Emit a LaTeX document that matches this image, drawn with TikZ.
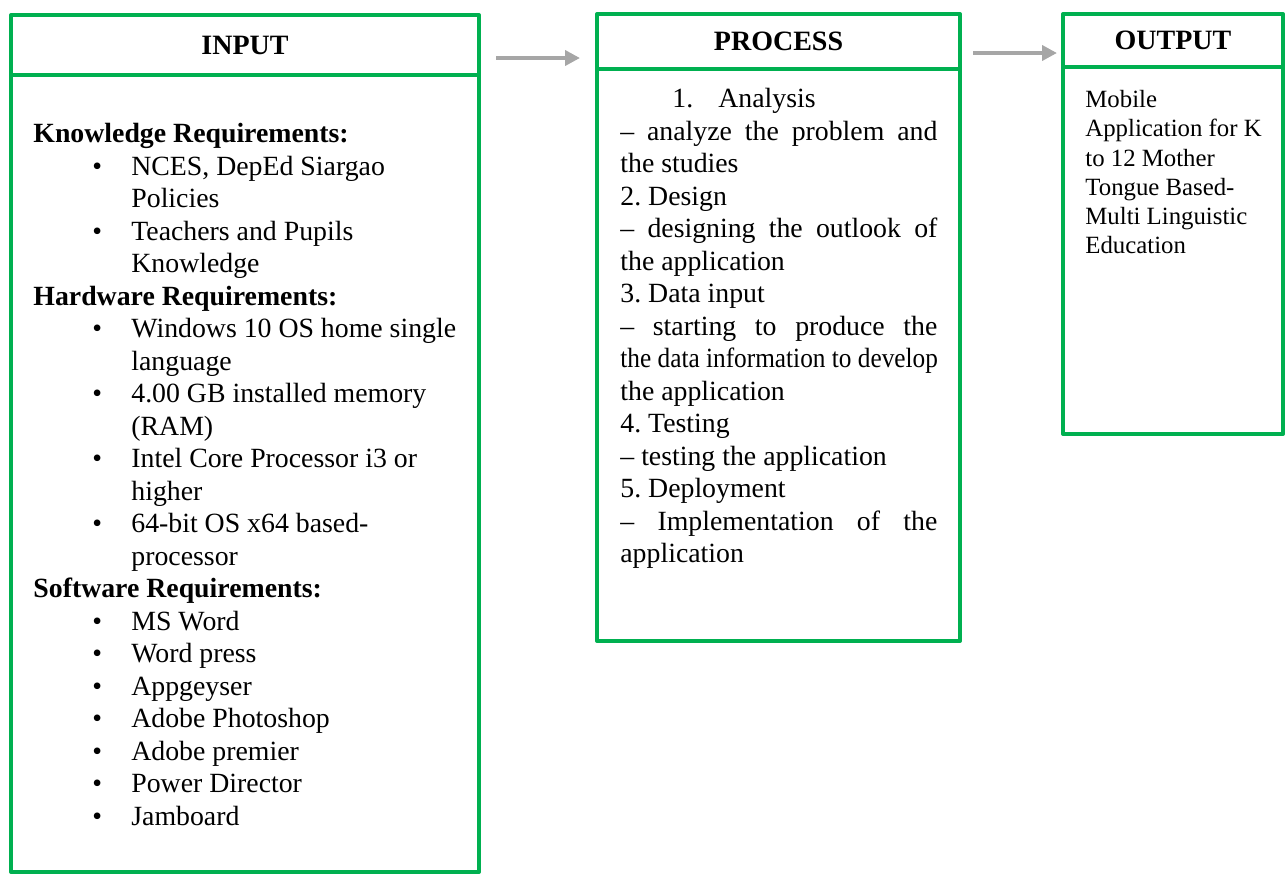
\documentclass[tikz,border=0pt]{standalone}
\usepackage{fontspec}
\usepackage{graphicx}
\setmainfont{Liberation Serif}
\frenchspacing
\usetikzlibrary{positioning,arrows.meta}
\definecolor{boxgreen}{HTML}{00B050}
\definecolor{arrowgray}{HTML}{A6A6A6}
\newcommand{\Item}[1]{\hspace*{29.5pt}\makebox[19.5pt][l]{\textbullet}#1}
\newcommand{\Cont}[1]{\hspace*{49pt}#1}
\newcommand{\Just}[1]{\makebox[158.5pt][s]{#1}}
\begin{document}
\begin{tikzpicture}[x=0.5pt, y=-0.5pt, line join=round, >=Triangle,
	frame/.style={draw=boxgreen, line width=2pt, inner sep=0pt, outer sep=0pt},
	head/.style={frame, font=\fontsize{14}{16}\selectfont\bfseries},
	body/.style={align=left, inner sep=0pt, anchor=north west, font=\fontsize{13.9}{16.25}\selectfont},
	flow/.style={draw=arrowgray, line width=2pt, -{Triangle[length=7.5pt,width=7.5pt]}}]
	\useasboundingbox (0,0) rectangle (1286,874);
	% headers
	\node[head, minimum width=234pt, minimum height=30pt] (inhead) at (245,45) {INPUT};
	\node[head, minimum width=181.5pt, minimum height=27.5pt] (prochead) at (778.5,41.5) {PROCESS};
	\node[head, minimum width=110pt, minimum height=26.5pt] (outhead) at (1173,40.5) {OUTPUT};
	% bodies
	\node[frame, minimum width=234pt, minimum height=398.5pt, below=0pt of inhead] (inbox) {};
	\node[frame, minimum width=181.5pt, minimum height=286pt, below=0pt of prochead] (procbox) {};
	\node[frame, minimum width=110pt, minimum height=183.5pt, below=0pt of outhead] (outbox) {};
	% texts
	\node[body] (intext) at (33,123) {%
		\textbf{Knowledge Requirements:}\\
		\Item{NCES, DepEd Siargao}\\
		\Cont{Policies}\\
		\Item{Teachers and Pupils}\\
		\Cont{Knowledge}\\
		\textbf{Hardware Requirements:}\\
		\Item{Windows 10 OS home single}\\
		\Cont{language}\\
		\Item{4.00 GB installed memory}\\
		\Cont{(RAM)}\\
		\Item{Intel Core Processor i3 or}\\
		\Cont{higher}\\
		\Item{64-bit OS x64 based-}\\
		\Cont{processor}\\
		\textbf{Software Requirements:}\\
		\Item{MS Word}\\
		\Item{Word press}\\
		\Item{Appgeyser}\\
		\Item{Adobe Photoshop}\\
		\Item{Adobe premier}\\
		\Item{Power Director}\\
		\Item{Jamboard}};
	\node[body] (proctext) at (620,88) {%
		\hspace*{26pt}\makebox[23pt][l]{1.}Analysis\\
		\Just{– analyze the problem and}\\
		the studies\\
		2. Design\\
		\Just{– designing the outlook of}\\
		the application\\
		3. Data input\\
		\Just{– starting to produce the}\\
		\scalebox{0.91}[1]{the data information to develop}\\
		the application\\
		4. Testing\\
		– testing the application\\
		5. Deployment\\
		\Just{– Implementation of the}\\
		application};
	\node[body, font=\fontsize{12.4}{14.6}\selectfont] (outtext) at (1085,90) {%
		Mobile\\
		Application for K\\
		to 12 Mother\\
		Tongue Based-\\
		Multi Linguistic\\
		Education};
	% arrows
	\draw[flow] ([xshift=8.5pt,yshift=-6.5pt]inhead.east) -- ([xshift=-8.5pt,yshift=-8.25pt]prochead.west);
	\draw[flow] ([xshift=6.5pt,yshift=-5.75pt]prochead.east) -- ([xshift=-3pt,yshift=-6.25pt]outhead.west);
\end{tikzpicture}
\end{document}
